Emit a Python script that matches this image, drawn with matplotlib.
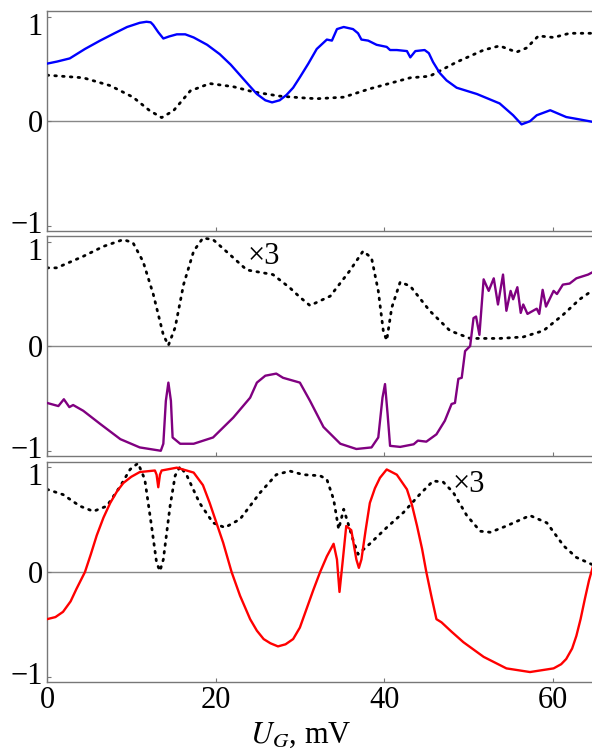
import numpy as np
import matplotlib
matplotlib.use("Agg")
import matplotlib.pyplot as plt
import matplotlib.transforms as mtrans

plt.rcParams['font.family'] = ['Liberation Serif', 'DejaVu Serif']
plt.rcParams['mathtext.fontset'] = 'stix'

# panel 1: blue solid + dotted
blue_x = [0, 1.2, 2.7, 4.5, 6.3, 8.0, 9.5, 11.0, 11.8, 12.3, 12.6, 13.2, 13.8, 14.5, 15.4, 16.4, 17.4,
          19.0, 20.5, 21.8, 22.9, 24.0, 24.9, 25.9, 26.7, 27.6, 28.4, 29.2, 30.0,
          31.0, 32.0, 33.2, 33.8, 34.4, 35.2, 36.3, 36.9, 37.3, 38.1, 39.1, 40.3, 40.7, 41.5, 42.7,
          43.1, 43.7, 44.8, 45.3, 45.8, 46.6, 47.4, 48.6, 51.0, 53.7, 55.3, 56.3, 57.3, 58.1, 59.7,
          61.6, 63.0, 65.0]
blue_y = [0.55, 0.57, 0.60, 0.69, 0.77, 0.84, 0.90, 0.94, 0.95, 0.945, 0.92, 0.85, 0.79, 0.81, 0.83,
          0.83, 0.80, 0.73, 0.64, 0.54, 0.44, 0.34, 0.26, 0.20, 0.18, 0.20, 0.25, 0.32, 0.42,
          0.55, 0.69, 0.78, 0.77, 0.88, 0.90, 0.88, 0.84, 0.78, 0.77, 0.73, 0.71, 0.68, 0.68, 0.67,
          0.61, 0.67, 0.68, 0.65, 0.565, 0.46, 0.39, 0.32, 0.26, 0.17, 0.057, -0.03, 0.0, 0.057,
          0.105, 0.04, 0.02, -0.01]
dot1_x = [0, 4.3, 7.5, 10.2, 12.2, 13.6, 15.0, 17.0, 19.3, 22.1, 24.5, 27.6, 30.0, 32.0, 35.2,
          38.3, 43.1, 45.4, 48.6, 51.8, 53.7, 55.7, 56.9, 58.3, 60.1, 62.0, 65.0]
dot1_y = [0.44, 0.415, 0.34, 0.23, 0.10, 0.035, 0.10, 0.29, 0.36, 0.33, 0.28, 0.24, 0.225, 0.215, 0.23,
          0.31, 0.415, 0.43, 0.565, 0.68, 0.72, 0.66, 0.70, 0.815, 0.80, 0.84, 0.84]

# panel 2: purple solid + dotted (x3)
purple_x = [0, 1.35, 2.0, 2.65, 3.1, 4.3, 6.3, 8.7, 11.0, 13.5, 13.8, 14.1, 14.4, 14.7, 14.9, 15.8,
            17.4, 19.7, 22.1, 24.1, 24.9, 25.9, 27.2, 28.0, 30.0, 31.2, 32.8, 34.8, 36.7, 38.5,
            39.3, 39.8, 40.1, 40.4, 40.7, 41.9, 43.5, 44.0, 45.0, 46.2, 47.2, 48.0, 48.4, 48.8,
            49.2, 49.6, 50.2, 50.6, 50.9, 51.3, 51.8, 52.4, 53.0, 53.5, 54.1, 54.5, 55.0, 55.3,
            55.8, 56.2, 56.5, 57.0, 58.1, 58.4, 58.8, 59.2, 60.1, 60.5, 61.2, 62.0, 62.8, 64.2, 65.0]
purple_y = [-0.54, -0.57, -0.505, -0.58, -0.56, -0.615, -0.74, -0.886, -0.965, -0.997, -0.93, -0.52,
            -0.346, -0.52, -0.87, -0.93, -0.93, -0.87, -0.68, -0.49, -0.346, -0.28, -0.26, -0.30,
            -0.346, -0.52, -0.77, -0.93, -0.98, -0.965, -0.87, -0.49, -0.36, -0.64, -0.95, -0.96,
            -0.935, -0.90, -0.91, -0.84, -0.71, -0.55, -0.54, -0.31, -0.30, -0.045, 0.003, 0.27,
            0.285, 0.11, 0.64, 0.53, 0.65, 0.40, 0.686, 0.34, 0.53, 0.45, 0.565, 0.32, 0.40, 0.31,
            0.36, 0.31, 0.54, 0.38, 0.53, 0.50, 0.59, 0.60, 0.65, 0.686, 0.72]
dot2_x = [0, 1.15, 4.3, 6.7, 9.05, 10.2, 11.4, 12.6, 13.8, 14.4, 15.2, 16.2, 17.4, 18.5, 19.7,
          21.7, 23.7, 26.8, 28.8, 30.0, 31.2, 33.6, 35.9, 37.5, 38.5, 39.3, 39.9, 40.3, 40.9,
          41.9, 43.1, 45.4, 47.8, 50.2, 53.7, 56.5, 58.9, 61.2, 63.2, 65.0]
dot2_y = [0.75, 0.75, 0.86, 0.955, 1.02, 0.99, 0.81, 0.50, 0.11, 0.01, 0.18, 0.59, 0.91, 1.035, 1.02,
          0.876, 0.73, 0.686, 0.56, 0.47, 0.39, 0.48, 0.72, 0.91, 0.845, 0.53, 0.146, 0.057, 0.37,
          0.615, 0.575, 0.34, 0.15, 0.076, 0.076, 0.09, 0.15, 0.30, 0.45, 0.55]

# panel 3: red solid + dotted (x3)
red_x = [0, 1.0, 1.9, 2.8, 3.5, 4.5, 5.2, 5.9, 6.7, 7.5, 8.3, 9.05, 10.0, 11.0, 12.8, 13.0, 13.2,
         13.4, 13.6, 15.4, 17.4, 18.5, 19.3, 20.1, 20.9, 21.9,
         22.9, 24.1, 24.9, 25.7, 26.5, 27.4, 28.3, 29.2, 30.0, 30.8, 31.6, 32.4, 33.2, 34.0, 34.4,
         34.7, 35.1, 35.5, 36.1, 36.7, 37.0,
         37.3, 37.8, 38.3, 38.9, 39.5, 40.3, 41.5, 42.7, 43.3, 43.9, 44.5, 45.0, 45.6, 46.2, 46.8,
         48.0, 49.4, 51.8, 54.5, 57.3, 60.1, 61.0, 61.6, 62.3, 62.8, 63.3, 63.8, 64.3, 65.0]
red_y = [-0.45, -0.43, -0.38, -0.28, -0.16, 0.0, 0.17, 0.35, 0.52, 0.66, 0.77, 0.85, 0.91, 0.955,
         0.97, 0.93, 0.81, 0.93, 0.97, 0.997, 0.95, 0.83, 0.66, 0.47, 0.28, 0.0,
         -0.226, -0.45, -0.56, -0.64, -0.68, -0.71, -0.69, -0.64, -0.53, -0.35, -0.17, 0.0, 0.15,
         0.27, 0.12, -0.19, 0.12, 0.44, 0.40, 0.12, 0.04,
         0.12, 0.40, 0.66, 0.80, 0.90, 0.98, 0.93, 0.79, 0.64, 0.44, 0.22, 0.0, -0.23, -0.45, -0.48,
         -0.57, -0.67, -0.81, -0.92, -0.955, -0.92, -0.88, -0.83, -0.73, -0.61, -0.45, -0.26,
         -0.08, 0.12]
dot3_x = [0, 1.9, 3.9, 5.5, 7.1, 8.7, 9.85, 10.8, 11.6, 12.4, 13.0, 13.4, 13.8, 14.6, 15.2, 15.8,
          16.6, 18.1, 19.7, 21.1, 22.9, 25.3, 27.2, 28.8, 30.4, 32.4, 33.2, 34.0, 34.6, 35.2, 35.7,
          36.3, 36.9, 38.3, 40.3, 42.3, 44.2, 45.8, 47.0, 48.2, 49.8, 51.4, 52.6, 54.5, 57.3, 59.3,
          61.3, 62.8, 65.0]
dot3_y = [0.79, 0.74, 0.63, 0.58, 0.63, 0.82, 0.98, 1.04, 0.885, 0.44, 0.09, 0.01, 0.12, 0.63, 0.92, 1.01,
          0.92, 0.66, 0.47, 0.425, 0.505, 0.76, 0.93, 0.965, 0.93, 0.92, 0.885, 0.695, 0.41, 0.60, 0.47,
          0.31, 0.17, 0.27, 0.425, 0.57, 0.74, 0.87, 0.86, 0.76, 0.54, 0.39, 0.38, 0.44, 0.54, 0.47,
          0.25, 0.14, 0.06]

panels = [
    (blue_x, blue_y, 'blue', dot1_x, dot1_y, None),
    (purple_x, purple_y, 'purple', dot2_x, dot2_y, (23.8, 0.86)),
    (red_x, red_y, 'red', dot3_x, dot3_y, (48.1, 0.84)),
]

fig = plt.figure(figsize=(5.92, 7.53), dpi=100)
bottoms = [0.693, 0.394, 0.0943]
frame = '#777777'

for i, (sx, sy, col, dx, dy, lab) in enumerate(panels):
    ax = fig.add_axes([0.0794, bottoms[i], 0.9255, 0.292])
    ax.axhline(0, color='#888888', lw=1.0, zorder=1)
    ax.plot(dx, dy, color='black', lw=2.0, linestyle=(0, (0.6, 2.2)),
            dash_capstyle='round', zorder=2)
    ax.plot(sx, sy, color=col, lw=1.7, zorder=3)
    if lab is not None:
        ax.text(lab[0], lab[1], '×3', fontsize=22, va='center', ha='left')
    ax.set_xlim(0, 65)
    ax.set_ylim(-1.05, 1.05)
    ax.set_xticks([0, 20, 40, 60])
    ax.set_yticks([-1, 0, 1])
    ax.set_yticklabels(['\u22121', '0', '1'])
    for s in ax.spines.values():
        s.set_color(frame)
        s.set_linewidth(1.0)
    ax.tick_params(direction='in', length=3, width=0.8, color=frame,
                   labelsize=22, pad=3, top=False, right=False)
    # keep the end labels inside their own panel
    yl = ax.get_yticklabels()
    yl[0].set_transform(yl[0].get_transform() + mtrans.ScaledTranslation(0, 4 / 100, fig.dpi_scale_trans))
    yl[2].set_transform(yl[2].get_transform() + mtrans.ScaledTranslation(0, -7 / 100, fig.dpi_scale_trans))
    if i < 2:
        ax.set_xticklabels([])

fig.text(0.508, 0.0133, '$U_G$, mV', fontsize=22, ha='center', va='baseline')

fig.savefig('out.png', dpi=100)
